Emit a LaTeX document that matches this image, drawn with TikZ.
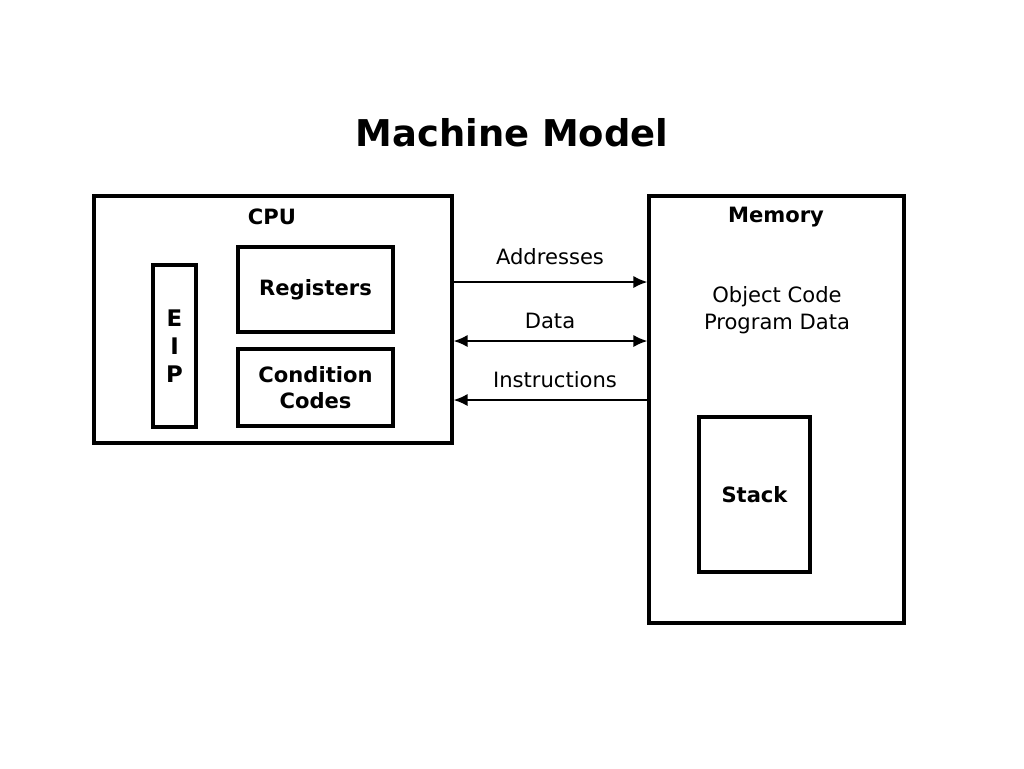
\documentclass[tikz,border=0pt]{standalone}
\usepackage{fontspec}
\setmainfont{DejaVu Sans}
\usetikzlibrary{positioning,arrows.meta}
\tikzset{
  box/.style={draw,line width=1.8pt,inner sep=0pt},
  lbl/.style={font=\fontsize{12}{15}\selectfont},
  blbl/.style={font=\bfseries\fontsize{12}{15}\selectfont,align=center},
  bus/.style={line width=1.2pt,-{Latex[length=8pt,width=7pt]}},
}
\begin{document}
\begin{tikzpicture}[x=0.02cm,y=-0.02cm]
  \useasboundingbox (0,0) rectangle (1024,768);
  \node[font=\bfseries\fontsize{21}{26}\selectfont] (title) at (512,133) {Machine Model};

  % processor side
  \node[box,minimum width=7.16cm,minimum height=4.94cm] (cpu) at (273,319.5) {};
  \node[blbl] (cpulbl) at (272,217) {CPU};
  \node[box,minimum width=0.86cm,minimum height=3.24cm,blbl,font=\bfseries\fontsize{13}{16}\selectfont] (eip) at (174.5,346) {E\\[0pt]I\\[0pt]P};
  \node[box,minimum width=3.1cm,minimum height=1.7cm,blbl] (regs) at (315.5,289.5) {Registers};
  \node[box,minimum width=3.1cm,minimum height=1.54cm,blbl] (cc) at (315.5,387.5) {Condition\\Codes};

  % memory side
  \node[box,minimum width=5.1cm,minimum height=8.54cm] (mem) at (776.5,409.5) {};
  \node[blbl] (memlbl) at (776,217) {Memory};
  \node[lbl,align=center] (code) at (777,310) {Object Code\\Program Data};
  \node[box,minimum width=2.22cm,minimum height=3.1cm,blbl] (stack) at (754.5,494.5) {Stack};

  % buses
  \coordinate (addr) at (550,282);
  \coordinate (data) at (550,341);
  \coordinate (instr) at (550,400);
  \draw[bus] (cpu.east |- addr) -- (mem.west |- addr);
  \draw[bus,{Latex[length=8pt,width=7pt]}-{Latex[length=8pt,width=7pt]}] (cpu.east |- data) -- (mem.west |- data);
  \draw[bus] (mem.west |- instr) -- (cpu.east |- instr);
  \node[lbl] (addrlbl) at (550,257) {Addresses};
  \node[lbl] (datalbl) at (550,321) {Data};
  \node[lbl] (instrlbl) at (555,380) {Instructions};
\end{tikzpicture}
\end{document}
